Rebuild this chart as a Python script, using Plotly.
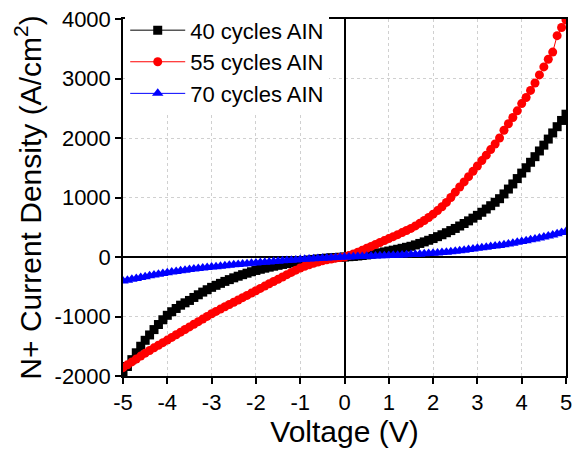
import plotly.graph_objects as go

voltage = [-5.0, -4.9, -4.8, -4.7, -4.6, -4.5, -4.4, -4.3, -4.2, -4.1,
           -4.0, -3.9, -3.8, -3.7, -3.6, -3.5, -3.4, -3.3, -3.2, -3.1,
           -3.0, -2.9, -2.8, -2.7, -2.6, -2.5, -2.4, -2.3, -2.2, -2.1,
           -2.0, -1.9, -1.8, -1.7, -1.6, -1.5, -1.4, -1.3, -1.2, -1.1,
           -1.0, -0.9, -0.8, -0.7, -0.6, -0.5, -0.4, -0.3, -0.2, -0.1,
           0.0, 0.1, 0.2, 0.3, 0.4, 0.5, 0.6, 0.7, 0.8, 0.9,
           1.0, 1.1, 1.2, 1.3, 1.4, 1.5, 1.6, 1.7, 1.8, 1.9,
           2.0, 2.1, 2.2, 2.3, 2.4, 2.5, 2.6, 2.7, 2.8, 2.9,
           3.0, 3.1, 3.2, 3.3, 3.4, 3.5, 3.6, 3.7, 3.8, 3.9,
           4.0, 4.1, 4.2, 4.3, 4.4, 4.5, 4.6, 4.7, 4.8, 4.9, 5.0]

j_40 = [-1960, -1840, -1725, -1610, -1500, -1400, -1310, -1220, -1135, -1055,
        -980, -920, -865, -810, -770, -730, -680, -635, -590, -550,
        -510, -476, -443, -410, -380, -350, -323, -297, -272, -248,
        -226, -206, -188, -171, -155, -140, -125, -111, -97, -84,
        -71, -60, -50, -41, -33, -25, -19, -13, -8, -4,
        0, 5, 10, 17, 25, 35, 46, 58, 71, 85,
        100, 115, 130, 146, 163, 180, 203, 228, 254, 281,
        310, 342, 374, 408, 444, 480, 521, 563, 607, 653,
        700, 752, 806, 862, 920, 980, 1060, 1142, 1228, 1318,
        1410, 1500, 1592, 1686, 1782, 1880, 1982, 2085, 2190, 2295, 2400]

j_55 = [-1860, -1812, -1763, -1714, -1665, -1616, -1571, -1527, -1483, -1440,
        -1396, -1352, -1307, -1263, -1219, -1175, -1131, -1087, -1043, -998,
        -954, -914, -875, -836, -798, -761, -722, -683, -645, -606,
        -568, -528, -489, -450, -412, -375, -336, -297, -259, -221,
        -185, -157, -131, -107, -84, -65, -48, -33, -20, -9,
        0, 25, 52, 80, 112, 145, 177, 210, 243, 276,
        310, 342, 375, 410, 445, 480, 522, 566, 613, 664,
        720, 780, 845, 917, 1000, 1090, 1176, 1262, 1350, 1440,
        1530, 1620, 1712, 1805, 1900, 2000, 2130, 2240, 2345, 2457,
        2578, 2680, 2800, 2925, 3060, 3195, 3323, 3444, 3720, 3858, 3985]

j_70 = [-405, -390, -375, -360, -345, -330, -316, -303, -290, -277,
        -265, -254, -243, -232, -222, -212, -203, -194, -186, -178,
        -170, -162, -154, -147, -139, -132, -125, -119, -112, -106,
        -100, -94, -88, -82, -76, -70, -65, -59, -54, -49,
        -44, -39, -34, -29, -24, -20, -16, -12, -8, -4,
        0, 2, 5, 7, 10, 12, 15, 17, 20, 22,
        25, 28, 31, 34, 37, 40, 44, 48, 53, 57,
        62, 68, 74, 81, 88, 95, 104, 114, 124, 134,
        145, 155, 165, 175, 185, 195, 207, 220, 233, 246,
        260, 274, 289, 304, 319, 335, 353, 371, 390, 410, 430]

x_ticks = [-5, -4, -3, -2, -1, 0, 1, 2, 3, 4, 5]
x_ticktext = ["-5", "-4", "-3", "-2", "-1", "0", "1", "2", "3", "4", "5"]
y_ticks = [-2000, -1000, 0, 1000, 2000, 3000, 4000]
y_ticktext = ["-2000", "-1000", "0", "1000", "2000", "3000", "4000"]

series = [
    ("40 cycles AIN", j_40, "black", "square", 9),
    ("55 cycles AIN", j_55, "red", "circle", 9),
    ("70 cycles AIN", j_70, "blue", "triangle-up", 10),
]

FONT = "Liberation Sans, Arial, sans-serif"

fig = go.Figure()
for name, ys, color, sym, size in series:
    fig.add_trace(go.Scatter(
        x=voltage, y=ys, name=name, mode="lines+markers",
        line=dict(color=color, width=1),
        marker=dict(symbol=sym, size=size, color=color, line=dict(width=0)),
    ))

axis_common = dict(
    showline=True, linecolor="black", linewidth=1.5, mirror=True,
    ticks="outside", ticklen=6, tickwidth=1.5, tickcolor="black",
    showgrid=True, gridcolor="#d0d0d0", gridwidth=1, griddash="dot",
    zeroline=True, zerolinecolor="black", zerolinewidth=1.5,
    tickfont=dict(family=FONT, size=22, color="black"),
)

fig.update_xaxes(
    range=[-5, 5], tickvals=x_ticks, ticktext=x_ticktext,
    title=dict(text="Voltage (V)", font=dict(family=FONT, size=30, color="black"), standoff=6),
    **axis_common,
)
fig.update_yaxes(
    range=[-2000, 4000], tickvals=y_ticks, ticktext=y_ticktext,
    title=dict(text="N+ Current Density (A/cm<sup>2</sup>)", font=dict(family=FONT, size=30, color="black"), standoff=4),
    **axis_common,
)

fig.update_layout(
    width=579, height=455,
    margin=dict(l=123, r=7, t=14, b=79),
    paper_bgcolor="white", plot_bgcolor="white",
    font=dict(family=FONT, color="black"),
    legend=dict(
        x=0.005, y=1.027, xanchor="left", yanchor="top",
        bgcolor="white", borderwidth=0,
        font=dict(family=FONT, size=22, color="black"),
        tracegroupgap=0, itemwidth=55,
    ),
    showlegend=True,
)

fig.write_html("out.html")
